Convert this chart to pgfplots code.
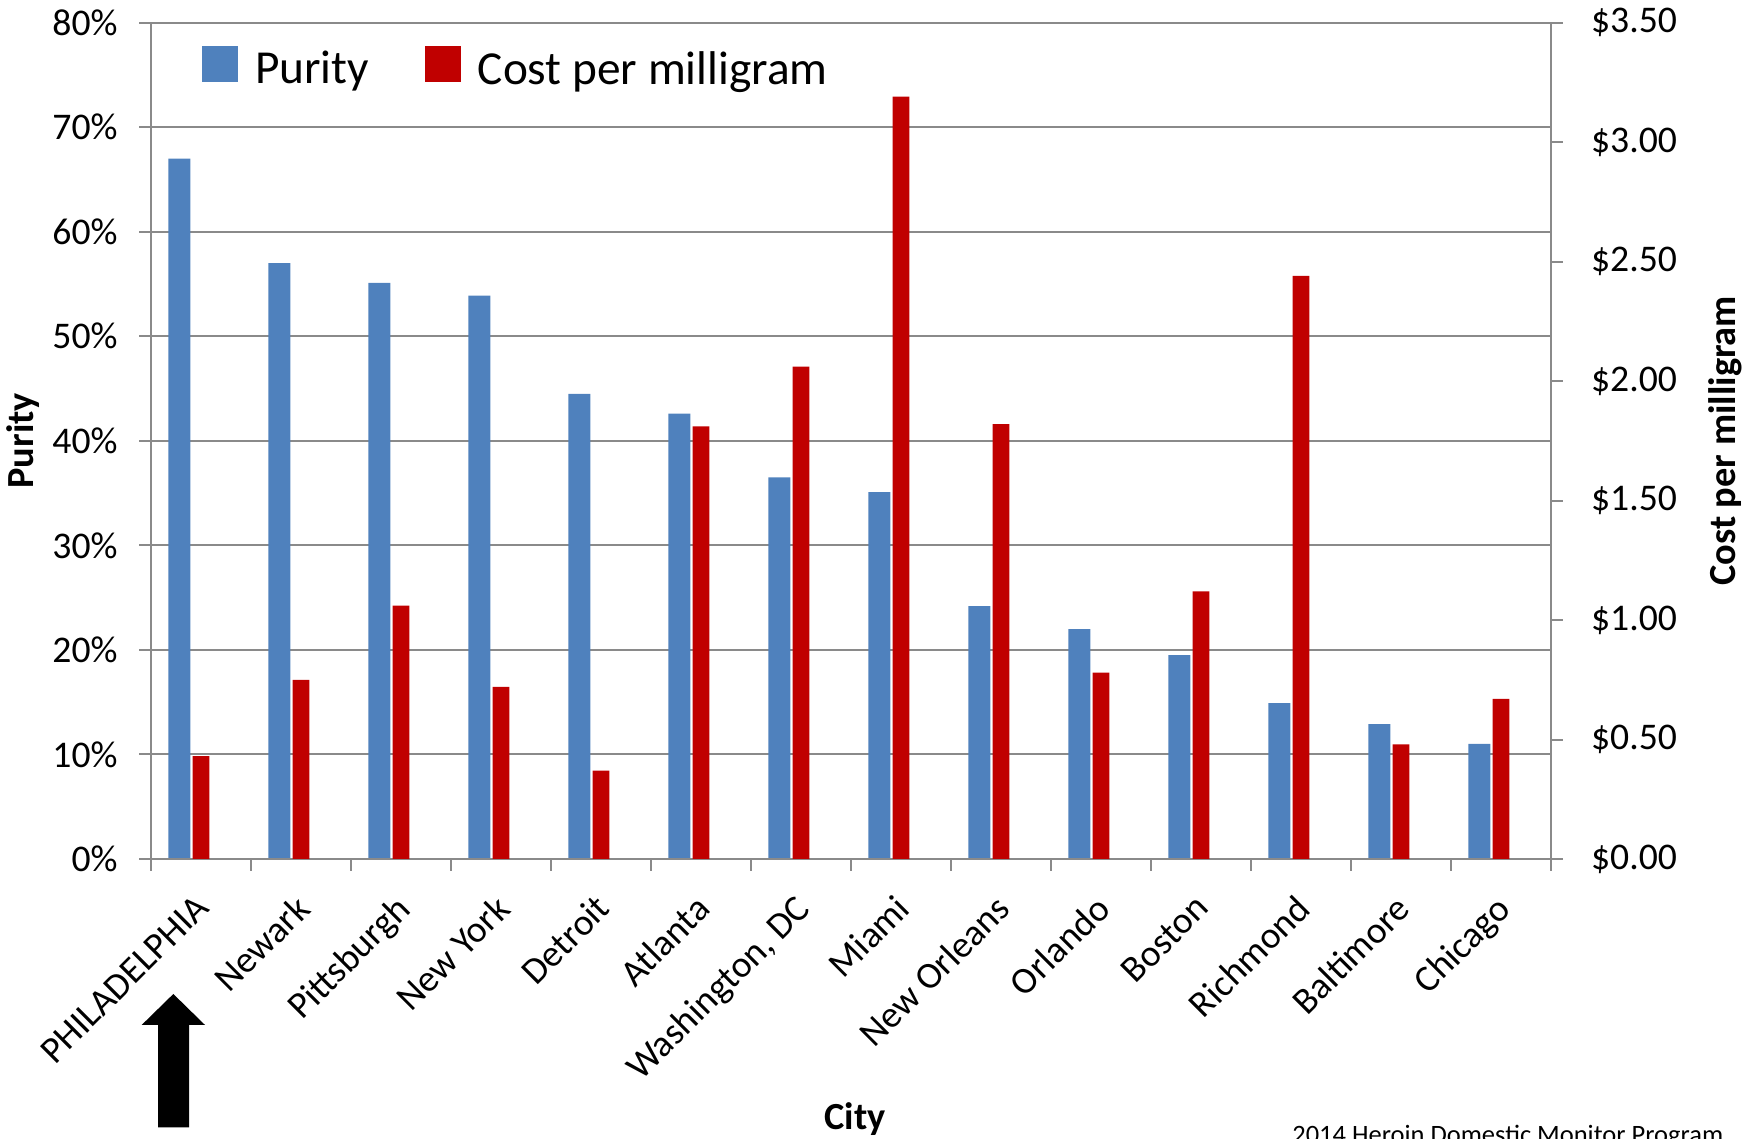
\documentclass[border=0pt]{standalone}
\usepackage{pgfplots}
\pgfplotsset{compat=1.18}
\usepackage{pgfplotstable}
\usepackage{fontspec}
\setmainfont{Carlito}

\definecolor{purityblue}{HTML}{4F81BD}
\definecolor{costred}{HTML}{C00000}
\definecolor{gridgray}{HTML}{8A8A8A}

% idx: city position; purity in percent; cost in dollars per milligram
\pgfplotstableread{
idx purity cost
0   67.0   0.43
1   57.0   0.75
2   55.1   1.06
3   53.9   0.72
4   44.5   0.37
5   42.6   1.81
6   36.5   2.06
7   35.1   3.19
8   24.2   1.82
9   22.0   0.78
10  19.5   1.12
11  14.9   2.44
12  12.9   0.48
13  11.0   0.67
}\citydata

\pgfplotsset{
  heroinbase/.style={
    scale only axis,
    width=420pt, height=250.9pt,
    at={(45.3pt,84pt)}, anchor=south west,
    xmin=-0.5, xmax=13.5,
    axis line style={gridgray, line width=0.6pt, -},
    tick style={gridgray, line width=0.6pt},
    tick align=outside,
    major tick length=3.5pt,
    /pgf/number format/assume math mode=true,
    tick label style={font=\fontsize{11.3}{13}\selectfont},
    label style={font=\bfseries\fontsize{11.5}{13}\selectfont},
    ybar,
  },
}

\begin{document}
\begin{tikzpicture}
\path[use as bounding box] (0,0) rectangle (527.4pt,341.7pt);

% purity, left scale
\begin{axis}[
  heroinbase,
  ymin=0, ymax=80,
  axis y line*=left, axis x line*=bottom,
  ytick={0,10,...,80},
  yticklabel={\pgfmathprintnumber[fixed,precision=0]{\tick}\%},
  yticklabel style={xshift=-3pt},
  ymajorgrids,
  grid style={gridgray, line width=0.6pt},
  xtick={0,...,13},
  xtick style={draw=none},
  xticklabels={PHILADELPHIA, Newark, Pittsburgh, New York, Detroit, Atlanta, {Washington, DC}, Miami, New Orleans, Orlando, Boston, Richmond, Baltimore, Chicago},
  xticklabel style={xshift=-2.2pt, yshift=-6.4pt, rotate=45, anchor=north east, inner sep=0pt, font=\fontsize{11.2}{13}\selectfont},
  ylabel={Purity},
  ylabel style={at={(axis description cs:-0.0841,0.5)}, rotate=0, anchor=base},
  xlabel={City},
  xlabel style={at={(axis description cs:0.503,-0.324)}, anchor=base},
  legend style={at={(axis description cs:0.0363,0.9466)}, anchor=west,
    draw=none, fill=none, inner sep=0pt,
    font=\fontsize{14.2}{17}\selectfont,
    nodes={inner sep=0pt},
    /tikz/every odd column/.append style={column sep=5pt},
    /tikz/every even column/.append style={column sep=16.8pt}},
  legend columns=-1,
  legend image code/.code={\fill[#1] (0pt,-3.4pt) rectangle (10.8pt,7.4pt);},
]
\addplot[fill=purityblue, draw=none, bar width=0.221, bar shift=-0.216]
  table[x=idx, y=purity] {\citydata};
\addlegendentry{Purity}
\addlegendimage{fill=costred, draw=none}
\addlegendentry{Cost per milligram}
\end{axis}

% cost, right scale
\begin{axis}[
  heroinbase,
  ymin=0, ymax=3.5,
  axis y line*=right, axis x line*=bottom,
  ytick={0,0.5,...,3.5},
  yticklabel={\$\pgfmathprintnumber[fixed,fixed zerofill,precision=2]{\tick}},
  yticklabel style={xshift=5pt},
  xtick={-0.5,0.5,...,13.5},
  xticklabels={},
  ylabel={Cost per milligram},
  ylabel style={at={(axis description cs:1.132,0.5)}, rotate=0, anchor=base},
]
\addplot[fill=costred, draw=none, bar width=0.169, bar shift=0]
  table[x=idx, y=cost] {\citydata};
\end{axis}

% marker arrow under the first city
\fill[black] (47.4pt,3.5pt) -- (56.7pt,3.5pt) -- (56.7pt,34.2pt) -- (61.5pt,34.2pt)
  -- (52.0pt,43.5pt) -- (42.5pt,34.2pt) -- (47.4pt,34.2pt) -- cycle;

% source note along the bottom edge
\node[anchor=base west, inner sep=0pt, font=\fontsize{7.95}{9}\selectfont]
  at (387.5pt,-1.35pt) {2014 Heroin Domestic Monitor Program};
\end{tikzpicture}
\end{document}
